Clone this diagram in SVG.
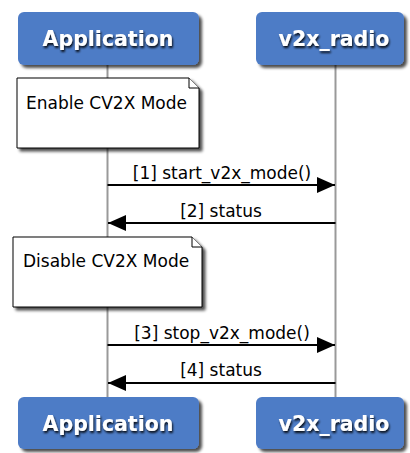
<svg xmlns="http://www.w3.org/2000/svg" width="410" height="453" viewBox="0 0 410 453">
<defs>
<filter id="sh" x="-10%" y="-10%" width="130%" height="140%">
<feGaussianBlur in="SourceAlpha" stdDeviation="1.5"/>
<feOffset dx="3" dy="3" result="b"/>
<feComponentTransfer><feFuncA type="linear" slope="0.7"/></feComponentTransfer>
<feMerge><feMergeNode/><feMergeNode in="SourceGraphic"/></feMerge>
</filter>
<filter id="tsh" x="-10%" y="-30%" width="120%" height="160%">
<feGaussianBlur in="SourceAlpha" stdDeviation="1"/>
<feOffset dx="1" dy="1.5" result="b"/>
<feComponentTransfer><feFuncA type="linear" slope="0.9"/></feComponentTransfer>
<feMerge><feMergeNode/><feMergeNode in="SourceGraphic"/></feMerge>
</filter>
<marker id="ah" viewBox="0 0 18 16" refX="18" refY="8" markerWidth="18" markerHeight="16" markerUnits="userSpaceOnUse" orient="auto">
<path d="M0,0 L18,8 L0,16 Z" fill="#000"/>
</marker>
<style>
.box{fill:#4e7bc6;filter:url(#sh)}
.bt{font-family:"DejaVu Sans",sans-serif;font-weight:bold;font-size:20.5px;fill:#fff;text-anchor:middle;filter:url(#tsh)}
.life{stroke:#999;stroke-width:2;fill:none}
.note{fill:#fff;stroke:#000;stroke-width:1;filter:url(#sh)}
.fold{fill:#fff;stroke:#000;stroke-width:1}
.nt{font-family:"DejaVu Sans",sans-serif;font-size:17px;fill:#000}
.msg{stroke:#000;stroke-width:2;fill:none;marker-end:url(#ah)}
.ml{font-family:"DejaVu Sans",sans-serif;font-size:17px;fill:#000;text-anchor:middle}
</style>
</defs>
<rect width="410" height="453" fill="#fff"/>
<g id="lifelines">
<line class="life" x1="107.5" y1="65" x2="107.5" y2="397"/>
<line class="life" x1="335.5" y1="65" x2="335.5" y2="397"/>
</g>
<g id="app-top"><rect class="box" x="18" y="12" width="181" height="53" rx="6"/><text class="bt" x="108" y="46">Application</text></g>
<g id="radio-top"><rect class="box" x="256" y="12" width="148" height="53" rx="6"/><text class="bt" x="334" y="46">v2x_radio</text></g>
<g id="note-enable"><path class="note" d="M17,78 H189 L199,88 V148 H17 Z"/><path class="fold" d="M189,78 V88 H199"/><text class="nt" x="26" y="109">Enable CV2X Mode</text></g>
<g id="note-disable"><path class="note" d="M13,237 H192 L202,247 V307 H13 Z"/><path class="fold" d="M192,237 V247 H202"/><text class="nt" x="23" y="267">Disable CV2X Mode</text></g>
<g id="connectors">
<line class="msg" x1="107.5" y1="185" x2="335" y2="185"/>
<text class="ml" x="222" y="179">[1] start_v2x_mode()</text>
<line class="msg" x1="335.5" y1="223" x2="108" y2="223"/>
<text class="ml" x="221" y="217">[2] status</text>
<line class="msg" x1="107.5" y1="345" x2="335" y2="345"/>
<text class="ml" x="222" y="339">[3] stop_v2x_mode()</text>
<line class="msg" x1="335.5" y1="383" x2="108" y2="383"/>
<text class="ml" x="221" y="376">[4] status</text>
</g>
<g id="app-bottom"><rect class="box" x="18" y="397" width="181" height="52" rx="6"/><text class="bt" x="108" y="431">Application</text></g>
<g id="radio-bottom"><rect class="box" x="256" y="397" width="148" height="52" rx="6"/><text class="bt" x="334" y="431">v2x_radio</text></g>
</svg>
